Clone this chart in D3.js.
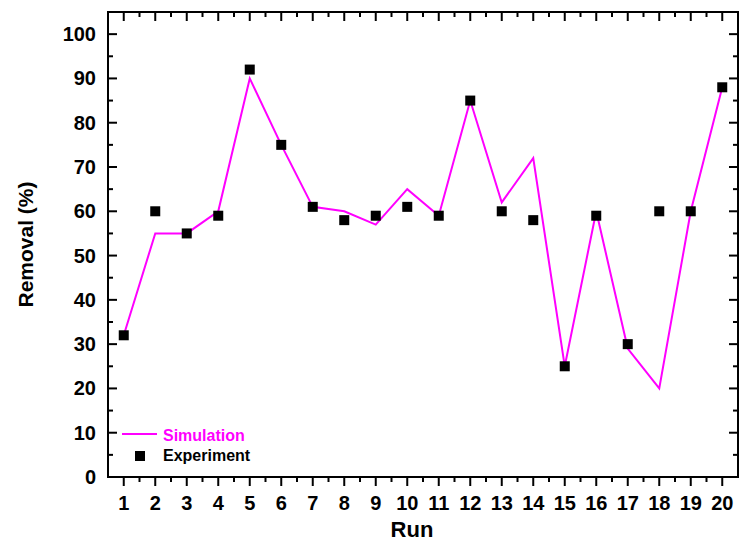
<!DOCTYPE html>
<html>
<head>
<meta charset="utf-8">
<script src="https://cdn.jsdelivr.net/npm/d3@7"></script>
<style>
  body { margin: 0; background: #fff; }
  text { font-family: "Liberation Sans", Arial, sans-serif; font-weight: bold; }
</style>
</head>
<body>
<div id="chart"></div>
<script>
const width = 739;
const height = 542;

const runs = d3.range(1, 21);
const simulation = [32, 55, 55, 60, 90, 75, 61, 60, 57, 65, 59, 85, 62, 72, 25, 60, 29, 20, 60, 88];
const experiment = [32, 60, 55, 59, 92, 75, 61, 58, 59, 61, 59, 85, 60, 58, 25, 59, 30, 60, 60, 88];
const yTicks = [0, 10, 20, 30, 40, 50, 60, 70, 80, 90, 100];

const plotL = 108, plotR = 738, plotT = 12, plotB = 477;

const x = d3.scaleLinear().domain([0.5, 20.5]).range([plotL, plotR]);
const y = d3.scaleLinear().domain([0, 105]).range([plotB, plotT]);

const svg = d3.select('#chart')
  .append('svg')
  .attr('width', width)
  .attr('height', height);

// frame
svg.append('rect')
  .attr('x', plotL).attr('y', plotT)
  .attr('width', plotR - plotL).attr('height', plotB - plotT)
  .attr('fill', 'none').attr('stroke', '#000').attr('stroke-width', 2);

const xMinor = d3.range(1.5, 20.5, 1);
const yMinor = d3.range(5, 105, 10);

// bottom axis, ticks outward
const gb = svg.append('g').attr('transform', 'translate(0,' + plotB + ')');
gb.selectAll('line.maj').data(runs).enter().append('line')
  .attr('x1', d => x(d)).attr('x2', d => x(d)).attr('y1', 0).attr('y2', 9)
  .attr('stroke', '#000').attr('stroke-width', 2);
gb.selectAll('line.min').data(xMinor).enter().append('line')
  .attr('x1', d => x(d)).attr('x2', d => x(d)).attr('y1', 0).attr('y2', 5)
  .attr('stroke', '#000').attr('stroke-width', 2);
gb.selectAll('text').data(runs).enter().append('text')
  .attr('x', d => x(d)).attr('y', 33)
  .attr('text-anchor', 'middle')
  .attr('font-size', '20px')
  .text(d => d);

// top axis, ticks inward
const gt = svg.append('g').attr('transform', 'translate(0,' + plotT + ')');
gt.selectAll('line.maj').data(runs).enter().append('line')
  .attr('x1', d => x(d)).attr('x2', d => x(d)).attr('y1', 0).attr('y2', 9)
  .attr('stroke', '#000').attr('stroke-width', 2);
gt.selectAll('line.min').data(xMinor).enter().append('line')
  .attr('x1', d => x(d)).attr('x2', d => x(d)).attr('y1', 0).attr('y2', 5)
  .attr('stroke', '#000').attr('stroke-width', 2);

// left axis, ticks inward
const gl = svg.append('g').attr('transform', 'translate(' + plotL + ',0)');
gl.selectAll('line.maj').data(yTicks).enter().append('line')
  .attr('y1', d => y(d)).attr('y2', d => y(d)).attr('x1', 0).attr('x2', 9)
  .attr('stroke', '#000').attr('stroke-width', 2);
gl.selectAll('line.min').data(yMinor).enter().append('line')
  .attr('y1', d => y(d)).attr('y2', d => y(d)).attr('x1', 0).attr('x2', 5)
  .attr('stroke', '#000').attr('stroke-width', 2);
gl.selectAll('text').data(yTicks).enter().append('text')
  .attr('x', -12).attr('y', d => y(d) + 7)
  .attr('text-anchor', 'end')
  .attr('font-size', '20px')
  .text(d => d);

// right axis, ticks inward
const gr = svg.append('g').attr('transform', 'translate(' + plotR + ',0)');
gr.selectAll('line.maj').data(yTicks).enter().append('line')
  .attr('y1', d => y(d)).attr('y2', d => y(d)).attr('x1', 0).attr('x2', -9)
  .attr('stroke', '#000').attr('stroke-width', 2);
gr.selectAll('line.min').data(yMinor).enter().append('line')
  .attr('y1', d => y(d)).attr('y2', d => y(d)).attr('x1', 0).attr('x2', -5)
  .attr('stroke', '#000').attr('stroke-width', 2);

// axis titles
svg.append('text')
  .attr('x', 412).attr('y', 537)
  .attr('text-anchor', 'middle')
  .attr('font-size', '22px')
  .text('Run');
svg.append('text')
  .attr('transform', 'translate(33,' + ((plotT + plotB) / 2) + ') rotate(-90)')
  .attr('text-anchor', 'middle')
  .attr('font-size', '21px')
  .text('Removal (%)');

// simulation line
const line = d3.line()
  .x((d, i) => x(runs[i]))
  .y(d => y(d));
svg.append('path')
  .datum(simulation)
  .attr('d', line)
  .attr('fill', 'none')
  .attr('stroke', '#ff00ff')
  .attr('stroke-width', 2);

// experiment markers
const sz = 10;
svg.selectAll('rect.exp').data(experiment).enter().append('rect')
  .attr('class', 'exp')
  .attr('x', (d, i) => x(runs[i]) - sz / 2)
  .attr('y', d => y(d) - sz / 2)
  .attr('width', sz).attr('height', sz)
  .attr('fill', '#000');

// legend
const lg = svg.append('g');
lg.append('line')
  .attr('x1', 122).attr('x2', 157).attr('y1', 434).attr('y2', 434)
  .attr('stroke', '#ff00ff').attr('stroke-width', 2);
lg.append('text')
  .attr('x', 163).attr('y', 441)
  .attr('font-size', '16px')
  .attr('fill', '#ff00ff')
  .text('Simulation');
lg.append('rect')
  .attr('x', 135).attr('y', 451).attr('width', sz).attr('height', sz)
  .attr('fill', '#000');
lg.append('text')
  .attr('x', 163).attr('y', 461)
  .attr('font-size', '16px')
  .attr('fill', '#000')
  .text('Experiment');
</script>
</body>
</html>
